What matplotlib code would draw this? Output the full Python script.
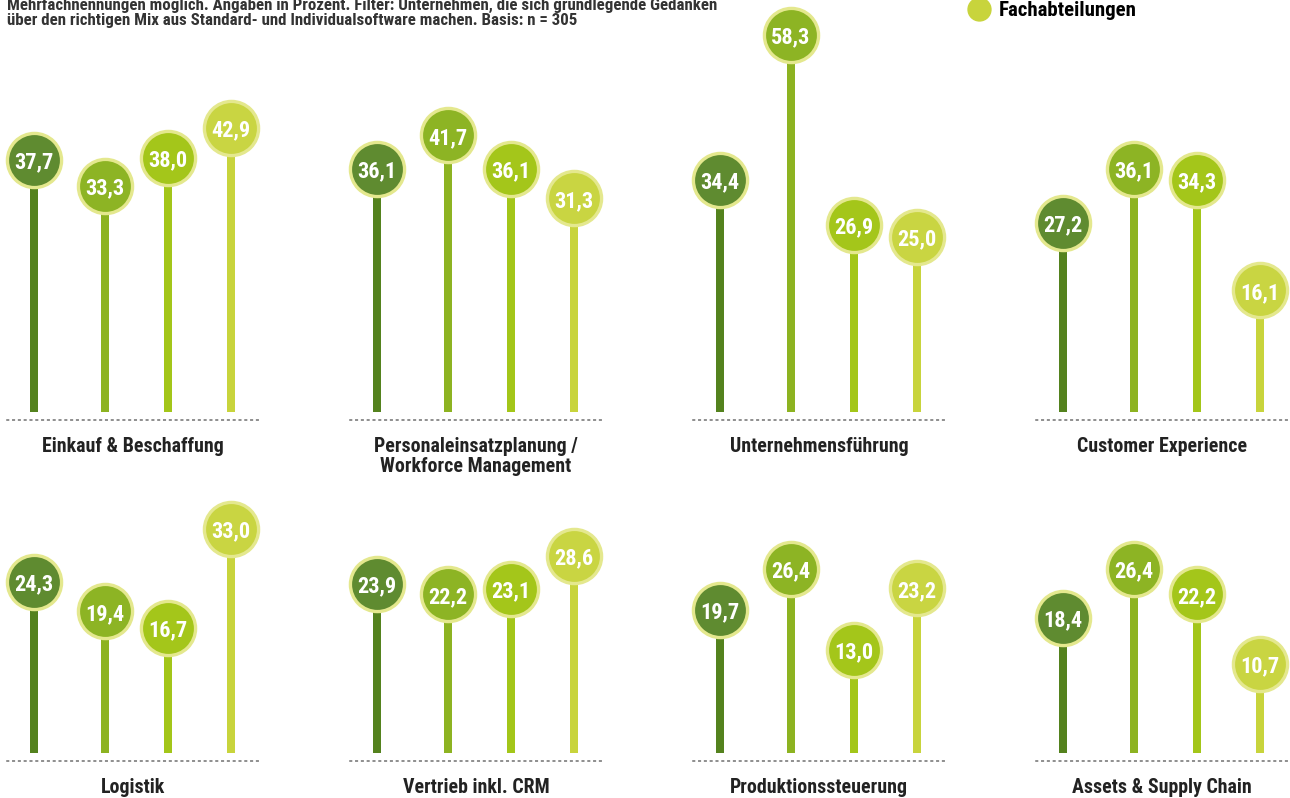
import matplotlib.pyplot as plt
from matplotlib.lines import Line2D

plt.rcParams['font.family'] = ['Liberation Sans Narrow', 'DejaVu Sans Condensed', 'Roboto Condensed',
                               'Open Sans Condensed', 'Roboto', 'DejaVu Sans']

categories = ["Einkauf & Beschaffung", "Personaleinsatzplanung /\nWorkforce Management",
              "Unternehmensführung", "Customer Experience",
              "Logistik", "Vertrieb inkl. CRM", "Produktionssteuerung", "Assets & Supply Chain"]

series_1 = [37.7, 36.1, 34.4, 27.2, 24.3, 23.9, 19.7, 18.4]
series_2 = [33.3, 41.7, 58.3, 36.1, 19.4, 22.2, 26.4, 26.4]
series_3 = [38.0, 36.1, 26.9, 34.3, 16.7, 23.1, 13.0, 22.2]
series_4 = [42.9, 31.3, 25.0, 16.1, 33.0, 28.6, 23.2, 10.7]
legend_label = "Fachabteilungen"

title = ("Mehrfachnennungen möglich. Angaben in Prozent. Filter: Unternehmen, die sich grundlegende Gedanken\n"
         "über den richtigen Mix aus Standard- und Individualsoftware machen. Basis: n = 305")

series = [series_1, series_2, series_3, series_4]
stem_colors = ['#54821e', '#8db321', '#a3c619', '#c8d43c']
face_colors = ['#5f8b30', '#8db424', '#a4c61a', '#c9d542']
edge_color = '#e4e88e'
text_color = '#222222'

W, H = 1290, 798
fig = plt.figure(figsize=(W / 100, H / 100), dpi=100)

# layout in pixels
offsets = [0, 71, 134, 197]
stem_base = -4
for i, cat in enumerate(categories):
    r, c = divmod(i, 4)
    left = 7 + 343 * c
    bottom = 420 + 341 * r
    ax = fig.add_axes([left / W, 1 - bottom / H, 252 / W, 420 / H])
    ax.set_xlim(-27, 225)
    ax.set_ylim(-5.28, 64.03)
    ax.patch.set_alpha(0)

    for j, vals in enumerate(series):
        v = vals[i]
        ax.bar(offsets[j], v - stem_base, bottom=stem_base, width=8, color=stem_colors[j], zorder=1)
        ax.scatter(offsets[j], v, s=39 ** 2, color=face_colors[j], edgecolors=edge_color,
                   linewidths=2.4, zorder=2, clip_on=False)
        ax.text(offsets[j], v, f"{v:.1f}".replace('.', ','), ha='center', va='center_baseline',
                color='white', fontsize=16, fontweight='bold', zorder=3)

    for s in ['top', 'left', 'right']:
        ax.spines[s].set_visible(False)
    ax.spines['bottom'].set_linestyle((0, (1, 2.8)))
    ax.spines['bottom'].set_color('#707070')
    ax.spines['bottom'].set_linewidth(1.1)
    ax.set_xticks([])
    ax.set_yticks([])
    ax.annotate(cat, xy=(0.5, 0), xycoords='axes fraction', xytext=(0, -12),
                textcoords='offset points', ha='center', va='top', fontsize=14.3,
                fontweight='bold', color=text_color, linespacing=1.1)

fig.text(7 / W, 1 - 13 / H, title, ha='left', va='center', fontsize=12.2,
         fontweight='bold', color='#333333', linespacing=1.02)

handle = Line2D([], [], marker='o', ls='', color=stem_colors[3], markersize=16.5)
fig.legend([handle], [legend_label], loc='center left', bbox_to_anchor=(966 / W, 1 - 11 / H),
           frameon=False, handletextpad=0.35, borderpad=0, borderaxespad=0,
           handlelength=1.2, prop={'weight': 'bold', 'size': 15})

fig.savefig('out.png', dpi=100)
